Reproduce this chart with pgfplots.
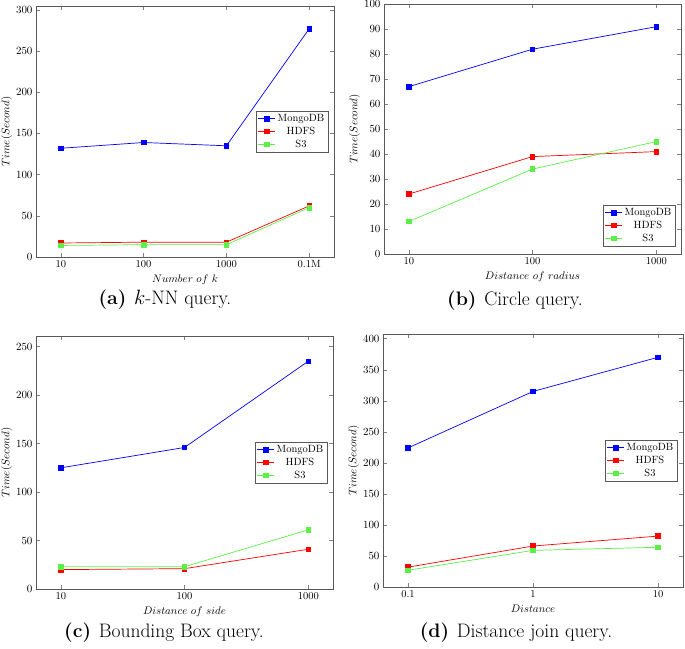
\documentclass[border=0pt]{standalone}
\usepackage{pgfplots}
\pgfplotsset{compat=1.18}
\begin{document}
\begin{tikzpicture}
\pgfplotsset{
  myaxis/.style={
    scale only axis,
    ymin=0,
    xtick=data,
    enlarge x limits=0.1,
    axis line style={black!65},
    every tick/.style={black!50},
    tick label style={font=\fontsize{10.5}{12}\selectfont},
    label style={font=\fontsize{10.5}{12}\selectfont},
    ylabel={$Time(Second)$},
    ylabel shift=-3pt,
    legend cell align=center,
    legend style={font=\fontsize{10.5}{12}\selectfont, draw=black!65, at={(0.98,0.5)}, anchor=east, row sep=0pt, inner sep=1.5pt},
  },
  mongo/.style={blue, line width=0.7pt, mark=square*, mark size=2.3pt, mark options={solid}},
  hdfs/.style={red, line width=0.7pt, mark=square*, mark size=2.3pt, mark options={solid}},
  sthree/.style={color={rgb,255:red,90;green,240;blue,70}, line width=0.7pt, mark=square*, mark size=2.3pt, mark options={solid}},
}
\useasboundingbox (0,0) rectangle (685pt,-648pt);

% (a)
\begin{axis}[myaxis, at={(36pt,-6pt)}, anchor=north west, width=298pt, height=251pt,
  ymax=304.7, ytick={0,50,100,150,200,250,300},
  xticklabels={10,100,1000,0.1M}, xlabel={$Number\ of\ k$}]
\addplot[mongo] coordinates {(0,132) (1,139) (2,135) (3,277)};
\addplot[hdfs] coordinates {(0,17) (1,18) (2,18) (3,62)};
\addplot[sthree] coordinates {(0,14) (1,15) (2,15) (3,60)};
\legend{MongoDB,HDFS,S3}
\end{axis}

% (b)
\begin{axis}[myaxis, at={(384pt,-4pt)}, anchor=north west, width=297pt, height=250pt,
  ymax=100.1, ytick={0,10,...,100},
  xticklabels={10,100,1000}, xlabel={$Distance\ of\ radius$},
  legend style={at={(0.98,0.03)}, anchor=south east}]
\addplot[mongo] coordinates {(0,67) (1,82) (2,91)};
\addplot[hdfs] coordinates {(0,24) (1,39) (2,41)};
\addplot[sthree] coordinates {(0,13) (1,34) (2,45)};
\legend{MongoDB,HDFS,S3}
\end{axis}

% (c)
\begin{axis}[myaxis, at={(36pt,-336pt)}, anchor=north west, width=297pt, height=253pt,
  ymax=261, ytick={0,50,...,250},
  xticklabels={10,100,1000}, xlabel={$Distance\ of\ side$}]
\addplot[mongo] coordinates {(0,125) (1,146) (2,235)};
\addplot[hdfs] coordinates {(0,20) (1,21) (2,41)};
\addplot[sthree] coordinates {(0,23) (1,23) (2,61)};
\legend{MongoDB,HDFS,S3}
\end{axis}

% (d)
\begin{axis}[myaxis, at={(383pt,-334pt)}, anchor=north west, width=300pt, height=253pt,
  ymax=407.5, ytick={0,50,...,400},
  xticklabels={0.1,1,10}, xlabel={$Distance$}]
\addplot[mongo] coordinates {(0,224) (1,315) (2,370)};
\addplot[hdfs] coordinates {(0,32) (1,66) (2,82)};
\addplot[sthree] coordinates {(0,27) (1,59) (2,64)};
\legend{MongoDB,HDFS,S3}
\end{axis}

\node[font=\fontsize{19.5}{22}\selectfont] at (165pt,-300pt) {\textbf{(a)}\hspace{0.4em}$k$-NN query.};
\node[font=\fontsize{19.5}{22}\selectfont] at (515pt,-301pt) {\textbf{(b)}\hspace{0.4em}Circle query.};
\node[font=\fontsize{19.5}{22}\selectfont] at (164pt,-633pt) {\textbf{(c)}\hspace{0.4em}Bounding Box query.};
\node[font=\fontsize{19.5}{22}\selectfont] at (516pt,-633pt) {\textbf{(d)}\hspace{0.4em}Distance join query.};
\end{tikzpicture}
\end{document}
